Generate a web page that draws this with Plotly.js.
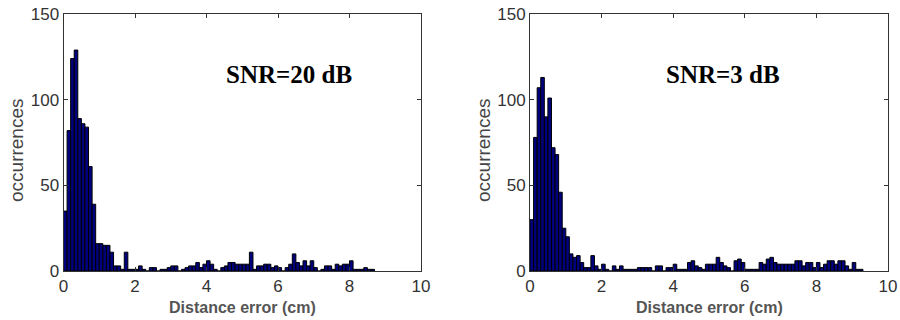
<!DOCTYPE html>
<html>
<head>
<meta charset="utf-8">
<script src="https://cdn.plot.ly/plotly-3.0.1.min.js"></script>
<style>html,body{margin:0;padding:0;background:#fff;}#chart{width:900px;height:320px;}</style>
</head>
<body>
<div id="chart"></div>
<script>
// ---- data (histogram counts, bin width 0.1 cm starting at 0) ----
const binWidth = 0.1;
const snr20Counts = [35, 82, 124, 129, 89, 86, 84, 61, 39, 16,
  16, 15, 15, 11, 3, 3, 1, 11, 1, 1,
  1, 3, 1, 0, 2, 2, 0, 1, 1, 2,
  3, 3, 0, 1, 2, 3, 3, 5, 2, 4,
  6, 4, 1, 0, 2, 3, 5, 5, 4, 4,
  4, 4, 11, 1, 3, 3, 4, 4, 2, 3,
  2, 0, 2, 4, 10, 5, 3, 6, 3, 6,
  2, 0, 1, 3, 3, 1, 4, 3, 4, 4,
  6, 1, 1, 1, 2, 1, 1];
const snr3Counts = [30, 78, 107, 113, 90, 101, 72, 68, 46, 25,
  20, 10, 8, 9, 5, 2, 2, 9, 3, 1,
  4, 1, 0, 3, 1, 3, 1, 1, 1, 1,
  2, 2, 2, 2, 0, 3, 3, 0, 2, 2,
  4, 1, 1, 1, 5, 6, 3, 2, 1, 4,
  4, 4, 8, 5, 3, 2, 0, 6, 7, 5,
  1, 1, 1, 1, 5, 4, 7, 8, 5, 4,
  4, 4, 4, 4, 6, 6, 3, 5, 5, 2,
  5, 2, 4, 6, 6, 4, 6, 6, 3, 1,
  5, 1, 1];
const xTickVals = [0, 2, 4, 6, 8, 10];
const yTickVals = [0, 50, 100, 150];
const panelLabels = ['SNR=20 dB', 'SNR=3 dB'];
const xTitleText = 'Distance error (cm)';
const yTitleText = 'occurrences';

// ---- build ----
function centers(counts) { return counts.map((_, i) => binWidth * (i + 0.5)); }

const barStyle = { color: '#00007f', line: { color: '#000000', width: 1 } };

const traces = [
  { type: 'bar', x: centers(snr20Counts), y: snr20Counts, width: binWidth,
    marker: barStyle, xaxis: 'x', yaxis: 'y', hoverinfo: 'x+y' },
  { type: 'bar', x: centers(snr3Counts), y: snr3Counts, width: binWidth,
    marker: barStyle, xaxis: 'x2', yaxis: 'y2', hoverinfo: 'x+y' }
];

const tickFont = { family: 'Liberation Sans, Arial, sans-serif', size: 17, color: '#333' };
function xAx(domain, anchor) {
  return { domain: domain, anchor: anchor, range: [0, 10], tickvals: xTickVals,
    ticks: 'inside', ticklen: 4, tickcolor: '#333', showline: true, linecolor: '#333',
    linewidth: 1, mirror: 'ticks', showgrid: false, zeroline: false, automargin: false,
    tickfont: tickFont, fixedrange: true };
}
function yAx(anchor) {
  return { domain: [0.153, 0.956], anchor: anchor, range: [0, 150], tickvals: yTickVals,
    ticks: 'inside', ticklen: 4, tickcolor: '#333', showline: true, linecolor: '#333',
    linewidth: 1, mirror: 'ticks', showgrid: false, zeroline: false, automargin: false,
    tickfont: tickFont, fixedrange: true };
}

const xTitleFont = { family: 'Liberation Sans, Arial, sans-serif', size: 16, color: '#555', weight: 'bold' };
const yTitleFont = { family: 'Liberation Sans, Arial, sans-serif', size: 19, color: '#444' };
const labelFont = { family: 'Liberation Serif, Times New Roman, serif', size: 25, color: '#000', weight: 'bold' };

const annotations = [
  { text: '<b>' + panelLabels[0] + '</b>', xref: 'x', yref: 'y', x: 6.3, y: 115, showarrow: false, font: labelFont },
  { text: '<b>' + panelLabels[1] + '</b>', xref: 'x2', yref: 'y2', x: 5.4, y: 115, showarrow: false, font: labelFont },
  { text: '<b>' + xTitleText + '</b>', xref: 'paper', yref: 'paper', x: 0.2692, y: 1 - 307/320,
    xanchor: 'center', yanchor: 'middle', showarrow: false, font: xTitleFont },
  { text: '<b>' + xTitleText + '</b>', xref: 'paper', yref: 'paper', x: 0.7878, y: 1 - 307/320,
    xanchor: 'center', yanchor: 'middle', showarrow: false, font: xTitleFont },
  { text: yTitleText, xref: 'paper', yref: 'paper', x: 16/900, y: 1 - 150/320, textangle: -90,
    xanchor: 'center', yanchor: 'middle', showarrow: false, font: yTitleFont },
  { text: yTitleText, xref: 'paper', yref: 'paper', x: 483/900, y: 1 - 150/320, textangle: -90,
    xanchor: 'center', yanchor: 'middle', showarrow: false, font: yTitleFont }
];

const layout = {
  width: 900, height: 320,
  margin: { l: 0, r: 0, t: 0, b: 0 },
  paper_bgcolor: '#ffffff', plot_bgcolor: '#ffffff',
  showlegend: false, bargap: 0,
  xaxis: xAx([63.5/900, 421/900], 'y'),
  yaxis: yAx('x'),
  xaxis2: xAx([530/900, 888/900], 'y2'),
  yaxis2: yAx('x2'),
  annotations: annotations
};

Plotly.newPlot('chart', traces, layout, { displayModeBar: false, staticPlot: true });
</script>
</body>
</html>
